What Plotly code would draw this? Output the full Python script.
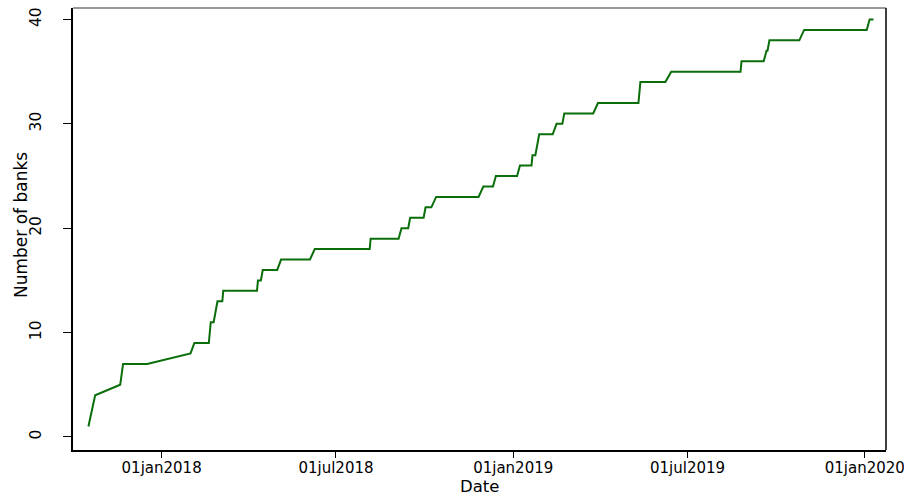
import plotly.graph_objects as go

# Cumulative number of banks (vertices)
dates = [
    "2017-10-17", "2017-10-24", "2017-11-19", "2017-11-22", "2017-12-17",
    "2018-01-31", "2018-02-04", "2018-02-19", "2018-02-21", "2018-02-24",
    "2018-02-26", "2018-02-28", "2018-03-05", "2018-03-06", "2018-04-10",
    "2018-04-11", "2018-04-14", "2018-04-16", "2018-05-01", "2018-05-05",
    "2018-06-04", "2018-06-09", "2018-08-05", "2018-08-06", "2018-09-04",
    "2018-09-07", "2018-09-14", "2018-09-16", "2018-09-30", "2018-10-02",
    "2018-10-08", "2018-10-13", "2018-11-26", "2018-12-01", "2018-12-11",
    "2018-12-14", "2019-01-05", "2019-01-08", "2019-01-20", "2019-01-21",
    "2019-01-24", "2019-01-26", "2019-01-28", "2019-02-11", "2019-02-15",
    "2019-02-21", "2019-02-23", "2019-03-25", "2019-03-30", "2019-05-11",
    "2019-05-13", "2019-06-08", "2019-06-14", "2019-08-25", "2019-08-26",
    "2019-09-18", "2019-09-21", "2019-09-22", "2019-09-24", "2019-10-25",
    "2019-10-30", "2020-01-03", "2020-01-06", "2020-01-10",
]
banks = [
    1, 4, 5, 7, 7,
    8, 9, 9, 11, 11,
    12, 13, 13, 14, 14,
    15, 15, 16, 16, 17,
    17, 18, 18, 19, 19,
    20, 20, 21, 21, 22,
    22, 23, 23, 24, 24,
    25, 25, 26, 26, 27,
    27, 28, 29, 29, 30,
    30, 31, 31, 32, 32,
    34, 34, 35, 35, 36,
    36, 37, 37, 38, 38,
    39, 39, 40, 40,
]

x_tickvals = ["2018-01-01", "2018-07-01", "2019-01-01", "2019-07-01", "2020-01-01"]
x_ticktext = ["01jan2018", "01jul2018", "01jan2019", "01jul2019", "01jan2020"]
y_tickvals = [0, 10, 20, 30, 40]

FONT = "DejaVu Sans"

fig = go.Figure()
fig.add_trace(go.Scatter(
    x=dates, y=banks, mode="lines",
    line=dict(color="#0a6e0a", width=2),
    showlegend=False, hoverinfo="skip",
))

fig.update_layout(
    width=904, height=495,
    margin=dict(l=73, r=18, t=8, b=45),
    paper_bgcolor="white", plot_bgcolor="white",
    font=dict(family=FONT, color="black"),
    xaxis=dict(
        type="date",
        range=["2017-10-01", "2020-01-23"],
        tickvals=x_tickvals, ticktext=x_ticktext,
        ticks="outside", ticklen=6, tickwidth=1, tickcolor="black",
        ticklabeloverflow="allow",
        ticklabelstandoff=-3,
        automargin=False,
        tickfont=dict(family=FONT, size=15, color="black"),
        showgrid=False, zeroline=False,
        showline=True, linecolor="black", linewidth=2,
    ),
    yaxis=dict(
        range=[-1.25, 41.1],
        tickvals=y_tickvals,
        ticks="outside", ticklen=8, tickwidth=1, tickcolor="black",
        tickangle=-90,
        ticklabelstandoff=16,
        automargin=False,
        tickfont=dict(family=FONT, size=15.5, color="black"),
        showgrid=False, zeroline=False,
        showline=True, linecolor="black", linewidth=2,
    ),
    shapes=[
        dict(type="line", xref="paper", yref="paper", x0=0, x1=1, y0=1, y1=1,
             line=dict(color="#777777", width=1.5)),
        dict(type="line", xref="paper", yref="paper", x0=1, x1=1, y0=0, y1=1,
             line=dict(color="black", width=1.5)),
    ],
    annotations=[
        dict(text="Date", xref="paper", yref="paper", x=0.5, y=0,
             xanchor="center", yanchor="middle", yshift=-36, showarrow=False,
             font=dict(family=FONT, size=16.5, color="black")),
        dict(text="Number of banks", xref="paper", yref="paper", x=0, y=0.509,
             xanchor="center", yanchor="middle", xshift=-52, textangle=-90,
             showarrow=False, font=dict(family=FONT, size=17, color="black")),
    ],
)

fig.write_html("out.html")
